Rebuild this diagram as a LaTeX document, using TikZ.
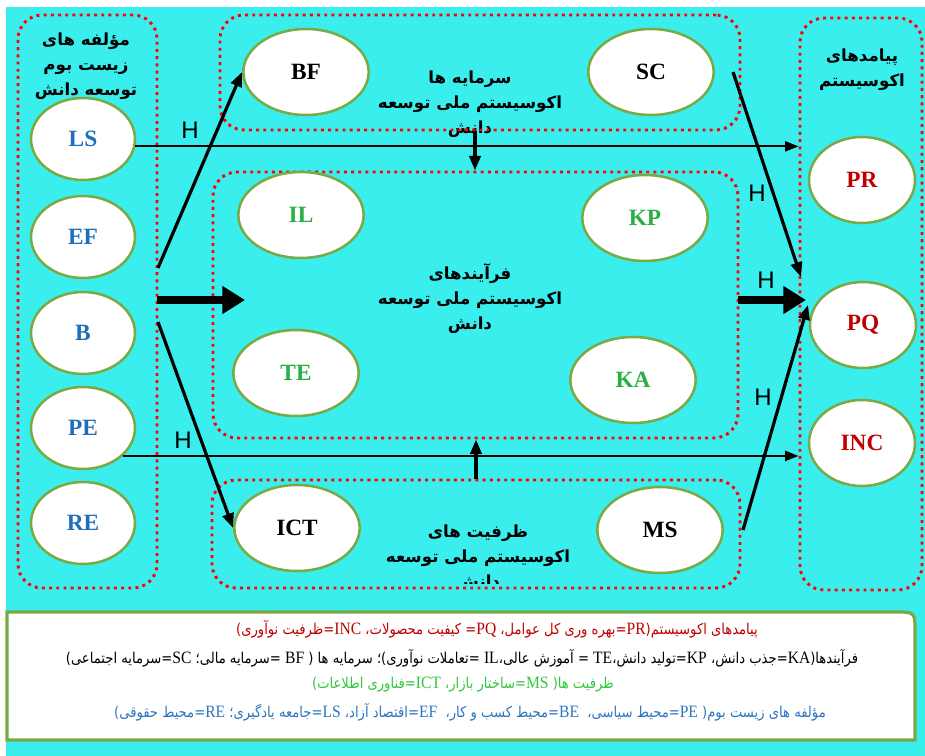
\documentclass[tikz,border=0pt]{standalone}
\usepackage{fontspec}
\setmainfont{Liberation Serif}
\newfontfamily\farsi[Script=Arabic]{DejaVu Sans}
\newfontfamily\farsicond[Script=Arabic,FakeStretch=0.88]{DejaVu Sans}
\newfontfamily\latf[FakeStretch=0.9]{Liberation Serif}
\newfontfamily\hfont{Liberation Sans}
\TeXXeTstate=1
\usetikzlibrary{shapes.geometric,arrows.meta,fit}
\definecolor{bgcyan}{RGB}{58,238,238}
\definecolor{elgreen}{RGB}{122,170,70}
\definecolor{lblue}{RGB}{30,110,190}
\definecolor{lgreen}{RGB}{40,175,70}
\definecolor{dred}{RGB}{192,0,0}
\definecolor{leggreen}{RGB}{50,200,60}
\definecolor{legblue}{RGB}{46,117,190}
\newcommand\ptext[1]{{\farsi\beginR#1\endR}}
\newcommand\ltext[1]{{\farsicond\beginR#1\endR}}
\newcommand\ltn[1]{\beginL{\latf\fontsize{13}{14}\selectfont #1}\endL}
\tikzset{
  dotbox/.style={draw=red, line width=2.2pt, dash pattern=on 2.2pt off 3.2pt, rounded corners=18pt, inner sep=0pt},
  ell/.style={ellipse, draw=elgreen, line width=1.9pt, fill=white, inner sep=0pt, font=\bfseries\fontsize{17.5}{20}\selectfont},
  sell/.style={ell, minimum width=78pt, minimum height=61.5pt, text=lblue},
  mell/.style={ell, minimum width=94pt, minimum height=64.5pt},
  rell/.style={ell, minimum width=79.5pt, minimum height=64.5pt, text=dred},
  ttl/.style={align=center, inner sep=0pt, font=\farsi\bfseries\fontsize{12.5}{18.7}\selectfont},
  thinarr/.style={line width=1.5pt, -{Triangle[length=10pt,width=7.5pt]}},
  diagarr/.style={line width=2.4pt, -{Triangle[length=11pt,width=8.5pt]}},
  bigarr/.style={line width=6pt, -{Triangle[length=17pt,width=20pt]}},
  hlbl/.style={inner sep=0pt, font=\hfont\fontsize{18}{18}\selectfont},
  legl/.style={inner sep=0pt, font=\farsicond\fontsize{11.2}{13}\selectfont}
}
\begin{document}
\begin{tikzpicture}[x=0.75pt,y=-0.75pt]
\useasboundingbox (0,0) rectangle (925,756);
\fill[bgcyan] (6,7) rectangle (925,756);
% titles
\node[ttl] (tleft) at (86,66) {\ptext{مؤلفه های}\\\ptext{زیست بوم}\\\ptext{توسعه دانش}};
\node[ttl] (ttop) at (470,104) {\ptext{سرمایه ها}\\\ptext{اکوسیستم ملی توسعه}\\\ptext{دانش}};
\node[ttl] (tmid) at (470,299) {\ptext{فرآیندهای}\\\ptext{اکوسیستم ملی توسعه}\\\ptext{دانش}};
\begin{scope}
\clip (200,470) rectangle (760,583);
\node[ttl] (tbot) at (478,558) {\ptext{ظرفیت های}\\\ptext{اکوسیستم ملی توسعه}\\\ptext{دانش}};
\end{scope}
\node[ttl] (tright) at (862,70) {\ptext{پیامدهای}\\\ptext{اکوسیستم}};
% boxes
\node[dotbox, fit={(18,15) (157,588)}] (leftbox) {};
\node[dotbox, fit={(220,15) (740,130)}] (capbox) {};
\node[dotbox, fit={(213,172) (738,438)}] (procbox) {};
\node[dotbox, fit={(212,480) (740,588)}] (capsbox) {};
\node[dotbox, fit={(800,18) (922,590)}] (outbox) {};
% ellipses
\node[sell] (LS) at (83,139) {LS};
\node[sell] (EF) at (83,237) {EF};
\node[sell] (B) at (83,333) {B};
\node[sell] (PE) at (83,428) {PE};
\node[sell] (RE) at (83,523) {RE};
\node[mell] (BF) at (306,72) {BF};
\node[mell] (SC) at (651,72) {SC};
\node[mell, text=lgreen] (IL) at (301,215) {IL};
\node[mell, text=lgreen] (KP) at (645,218) {KP};
\node[mell, text=lgreen] (TE) at (296,373) {TE};
\node[mell, text=lgreen] (KA) at (633,380) {KA};
\node[mell] (ICT) at (297,528) {ICT};
\node[mell] (MS) at (660,530) {MS};
\node[rell] (PR) at (862,180) {PR};
\node[rell] (PQ) at (863,325) {PQ};
\node[rell] (INC) at (862,443) {INC};
% connector end points
\coordinate (d1) at (158,268);
\coordinate (d2) at (158,322);
\coordinate (b1) at (157,300);
\coordinate (b2) at (245,300);
\coordinate (r1) at (738,300);
\coordinate (r2) at (806,300);
\coordinate (sc1) at (733,72);
\coordinate (pq1) at (801,277);
\coordinate (ms1) at (743,530);
\coordinate (pq2) at (808,305);
% arrows
\draw[thinarr] (LS.-8) -- (LS.-8 -| outbox.west);
\draw[thinarr] (PE.-35) -- (PE.-35 -| outbox.west);
\draw[diagarr] (d1) -- (BF.west);
\draw[diagarr] (d2) -- (ICT.west);
\draw[bigarr] (b1) -- (b2);
\draw[bigarr] (r1) -- (r2);
\draw[diagarr] (sc1) -- (pq1);
\draw[diagarr] (ms1) -- (pq2);
\draw[diagarr] ([xshift=-3.75pt]capbox.south) -- ([xshift=-3.75pt]capbox.south |- procbox.north);
\draw[diagarr] (capsbox.north) -- (capsbox.north |- procbox.south);
% H labels
\node[hlbl] (h1) at (190,130) {H};
\node[hlbl] (h2) at (183,440) {H};
\node[hlbl] (h3) at (757,193) {H};
\node[hlbl] (h4) at (766,280) {H};
\node[hlbl] (h5) at (763,397) {H};
% legend
\draw[draw=elgreen, line width=2.4pt, fill=white] (7,740) -- (7,612) -- (895,612) .. controls (915,612) .. (915,632) -- (915,740) -- cycle;
\node[legl, text=dred] (lg1) at (497,629) {\ltext{پیامدهای اکوسیستم(\ltn{PR}=بهره وری کل عوامل، \ltn{PQ}= کیفیت محصولات، \ltn{INC}=ظرفیت نوآوری)}};
\node[legl] (lg2) at (462,658) {\ltext{فرآیندها(\ltn{KA}=جذب دانش، \ltn{KP}=تولید دانش،\ltn{TE} = آموزش عالی،\ltn{IL} =تعاملات نوآوری)؛ سرمایه ها ( \ltn{BF} =سرمایه مالی؛ \ltn{SC}=سرمایه اجتماعی)}};
\node[legl, text=leggreen] (lg3) at (463,685) {\ltext{ظرفیت ها( \ltn{MS}=ساختار بازار، \ltn{ICT}=فناوری اطلاعات)}};
\node[legl, text=legblue] (lg4) at (470,712) {\ltext{مؤلفه های زیست بوم( \ltn{PE}=محیط سیاسی،\ \ \ltn{BE}=محیط کسب و کار،\ \ \ltn{EF}=اقتصاد آزاد، \ltn{LS}=جامعه یادگیری؛ \ltn{RE}=محیط حقوقی)}};
\end{tikzpicture}
\end{document}
